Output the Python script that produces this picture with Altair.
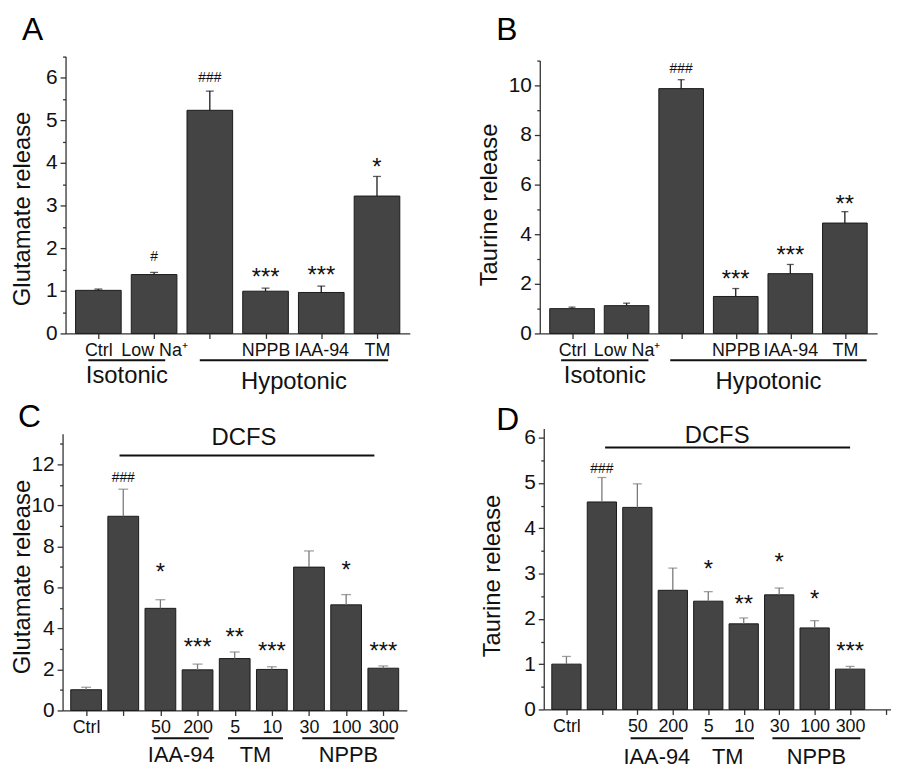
import json
import altair as alt
import pandas as pd

# ---------------- data ----------------
a_labels = ["Ctrl", "Low Na⁺", "", "NPPB", "IAA-94", "TM"]
a_values = [1.01, 1.38, 5.23, 0.99, 0.96, 3.22]
a_sem = [0.03, 0.05, 0.45, 0.07, 0.15, 0.46]
a_sig = ["", "#", "###", "***", "***", "*"]
a_sig_y = [0, 1.81, 6.0, 1.47, 1.51, 4.05]

b_labels = ["Ctrl", "Low Na⁺", "", "NPPB", "IAA-94", "TM"]
b_values = [1.0, 1.12, 9.87, 1.49, 2.41, 4.45]
b_sem = [0.06, 0.10, 0.36, 0.32, 0.37, 0.46]
b_sig = ["", "", "###", "***", "***", "**"]
b_sig_y = [0, 0, 10.72, 2.44, 3.40, 5.44]

ab_groups = ["Isotonic", "Hypotonic"]
ab_group_first = [1, 3]
ab_group_last = [2, 6]

c_labels = ["Ctrl", "", "50", "200", "5", "10", "30", "100", "300"]
c_values = [1.01, 9.47, 4.98, 1.98, 2.53, 2.00, 6.99, 5.15, 2.06]
c_sem = [0.12, 1.32, 0.42, 0.28, 0.32, 0.13, 0.79, 0.50, 0.11]
c_sig = ["", "###", "*", "***", "**", "***", "", "*", "***"]
c_sig_y = [0, 11.37, 7.06, 3.39, 3.87, 3.19, 0, 7.16, 3.19]

d_labels = ["Ctrl", "", "50", "200", "5", "10", "30", "100", "300"]
d_values = [1.00, 4.58, 4.46, 2.63, 2.39, 1.89, 2.53, 1.80, 0.89]
d_sem = [0.17, 0.54, 0.52, 0.49, 0.21, 0.13, 0.15, 0.16, 0.06]
d_sig = ["", "###", "", "", "*", "**", "*", "*", "***"]
d_sig_y = [0, 5.32, 0, 0, 3.22, 2.45, 3.39, 2.56, 1.42]

cd_groups = ["IAA-94", "TM", "NPPB"]
cd_group_first = [3, 5, 7]
cd_group_last = [4, 6, 9]
dcfs_label = ["DCFS"]
dcfs_first = [2]
dcfs_last = [9]

# ---------------- layout ----------------
W, H = 890, 760
FONT = "Liberation Sans"
BAR = "#444444"
INK = "#111111"


def panel(cfg):
    labels, values, sem, sig, sig_y = cfg["data"]
    n = len(labels)
    df = pd.DataFrame({
        "idx": list(range(1, n + 1)),
        "label": labels,
        "value": values,
        "upper": [v + s for v, s in zip(values, sem)],
        "sig": sig,
        "sig_y": sig_y,
    })
    x_max = cfg["x_max"]
    tick_vals = list(range(1, int(x_max) + 1))
    xs = alt.Scale(domain=[0.5, x_max], range=cfg["x_range"], nice=False, zero=False)
    ys = alt.Scale(domain=[0, cfg["y_max"]], range=cfg["y_range"], nice=False, zero=True)
    lab_js = json.dumps(labels, ensure_ascii=False)
    xaxis = alt.Axis(
        orient="bottom", offset=cfg["y_range"][0] - H, values=tick_vals,
        labelExpr=f"{lab_js}[datum.value - 1] || ''",
        labelFontSize=18, labelPadding=3, tickSize=5, labelOverlap=False,
        labelFlush=False, grid=False, title=None,
    )
    major, minor = cfg["major"], cfg["minor"]
    nvals = int(round(cfg["y_max"] / minor + 1e-9))
    yvals = [round(k * minor, 3) for k in range(nvals + 1)]
    yaxis = alt.Axis(
        orient="left", offset=-cfg["x_range"][0], values=yvals,
        labelExpr=f"datum.value % {major} === 0 ? '' + datum.value : ''",
        tickSize={"condition": {"test": f"datum.value % {major} !== 0", "value": 3}, "value": 5.5},
        labelFontSize=21, labelPadding=3, labelOverlap=False, grid=False,
        title=cfg["title"], titleFont=FONT, titleFontSize=24, titleFontWeight="normal",
        titleAngle=270, titleBaseline="alphabetic", titleAlign="center",
        titleX=cfg["title_x"] - cfg["x_range"][0], titleY=cfg["title_y"], titleColor=INK,
    )

    def X(f):
        return alt.X(f + ":Q", scale=xs, axis=xaxis)

    def Y(f):
        return alt.Y(f + ":Q", scale=ys, axis=yaxis)

    base = alt.Chart(df)
    layers = [
        base.mark_bar(orient="vertical", size=cfg["bar_px"], color=BAR, stroke="#1a1a1a",
                      strokeWidth=1).encode(x=X("idx"), y=Y("value")),
        base.mark_rule(color=cfg["err_color"], strokeWidth=1.3).encode(
            x=X("idx"), y=Y("value"), y2="upper:Q"),
        base.mark_tick(orient="horizontal", size=cfg["cap"], thickness=1.3,
                       color=cfg["err_color"]).encode(x=X("idx"), y=Y("upper")),
        base.transform_filter("indexof(datum.sig, '*') >= 0").mark_text(
            fontSize=24, baseline="alphabetic", dy=14, color=INK).encode(
            x=X("idx"), y=Y("sig_y"), text="sig:N"),
        base.transform_filter("indexof(datum.sig, '#') >= 0").mark_text(
            fontSize=14, baseline="alphabetic", dy=5, color=INK).encode(
            x=X("idx"), y=Y("sig_y"), text="sig:N"),
    ]

    # group brackets under the axis
    names, first, last = cfg["groups"]
    pl, pr = cfg["group_pad"]
    gdf = pd.DataFrame({
        "g": names,
        "lo": [f - pl for f in first],
        "hi": [l + pr for l in last],
    })
    gdf["mid"] = (gdf["lo"] + gdf["hi"]) / 2
    layers.append(alt.Chart(gdf).mark_rule(color=INK, strokeWidth=2).encode(
        x=X("lo"), x2="hi:Q", y=alt.value(cfg["group_line_y"])))
    for name, ty in zip(names, cfg["group_text_y"]):
        layers.append(alt.Chart(gdf).transform_filter(alt.datum.g == name).mark_text(
            fontSize=cfg["group_fs"], baseline="alphabetic", color=INK).encode(
            x=X("mid"), y=alt.value(ty), text="g:N"))

    # DCFS bracket above
    if "dcfs" in cfg:
        (dn, df_, dl), (dpl, dpr), line_y, text_y = cfg["dcfs"]
        ddf = pd.DataFrame({"g": dn, "lo": [f - dpl for f in df_], "hi": [l + dpr for l in dl],
                            "mid": [(f + l) / 2 - 0.25 for f, l in zip(df_, dl)]})
        layers.append(alt.Chart(ddf).mark_rule(color=INK, strokeWidth=2).encode(
            x=X("lo"), x2="hi:Q", y=alt.value(line_y)))
        layers.append(alt.Chart(ddf).mark_text(fontSize=24, baseline="alphabetic",
                                               color=INK).encode(
            x=X("mid"), y=alt.value(text_y), text="g:N"))

    # panel letter
    lx, ly = cfg["letter_pos"]
    layers.append(alt.Chart(pd.DataFrame({"t": [cfg["letter"]]})).mark_text(
        fontSize=32, align="left", baseline="alphabetic", color="black").encode(
        x=alt.value(lx), y=alt.value(ly), text="t:N"))
    return alt.layer(*layers)


pA = panel(dict(
    data=(a_labels, a_values, a_sem, a_sig, a_sig_y),
    x_max=6.5, x_range=[58, 405], y_max=6.5, y_range=[325, 45.5], major=1, minor=0.5,
    title="Glutamate release", title_x=22, title_y=199, bar_px=46, cap=8, err_color="#1a1a1a",
    groups=(ab_groups, ab_group_first, ab_group_last), group_pad=(0.18, 0.2),
    group_line_y=352, group_text_y=[375, 381], group_fs=24, letter="A", letter_pos=(14, 29),
))
pB = panel(dict(
    data=(b_labels, b_values, b_sem, b_sig, b_sig_y),
    x_max=6.5, x_range=[536, 876], y_max=11, y_range=[325, 50], major=2, minor=1,
    title="Taurine release", title_x=492, title_y=195, bar_px=45, cap=7, err_color="#1a1a1a",
    groups=(ab_groups, ab_group_first, ab_group_last), group_pad=(0.2, 0.4),
    group_line_y=352, group_text_y=[375, 381], group_fs=24, letter="B", letter_pos=(492, 29),
))
pC = panel(dict(
    data=(c_labels, c_values, c_sem, c_sig, c_sig_y),
    x_max=9.5, x_range=[55, 402], y_max=13.5, y_range=[705, 426], major=2, minor=1,
    title="Glutamate release", title_x=22, title_y=570, bar_px=31, cap=10, err_color="#7a7a7a",
    groups=(cd_groups, cd_group_first, cd_group_last), group_pad=(0.18, 0.3),
    group_line_y=733, group_text_y=[757, 757, 757], group_fs=22,
    dcfs=((dcfs_label, dcfs_first, dcfs_last), (0.1, -0.24), 448, 437),
    letter="C", letter_pos=(10, 419),
))
pD = panel(dict(
    data=(d_labels, d_values, d_sem, d_sig, d_sig_y),
    x_max=10, x_range=[540, 889.5], y_max=6.2, y_range=[704, 420.9], major=1, minor=0.5,
    title="Taurine release", title_x=495, title_y=569, bar_px=29.5, cap=9, err_color="#7a7a7a",
    groups=(cd_groups, cd_group_first, cd_group_last), group_pad=(0.19, 0.29),
    group_line_y=733, group_text_y=[759, 759, 759], group_fs=22,
    dcfs=((dcfs_label, dcfs_first, dcfs_last), (-0.09, 0.0), 440, 435),
    letter="D", letter_pos=(492, 422),
))

chart = alt.layer(pA, pB, pC, pD).resolve_scale(
    x="independent", y="independent"
).properties(
    width=W, height=H, autosize=alt.AutoSizeParams(type="none"), padding=0,
).configure_view(stroke=None).configure_axis(
    domainColor="#333333", tickColor="#333333", domainWidth=1.3, tickWidth=1.3,
    labelColor=INK, labelFont=FONT,
).configure_text(font=FONT)

chart.save("out.html", embed_options={"renderer": "svg", "actions": False})
